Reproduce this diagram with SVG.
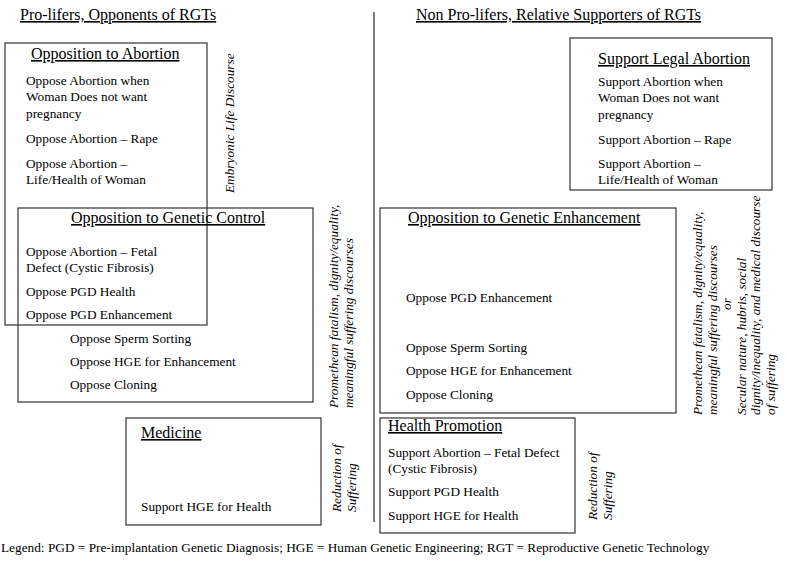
<svg xmlns="http://www.w3.org/2000/svg" width="787" height="573" viewBox="0 0 787 573">
<style>
.box{fill:none;stroke:#333;stroke-width:1.2}
text{font-family:"Liberation Serif","Times New Roman",serif;fill:#000}
.h{font-size:16px;text-decoration:underline}
.t{font-size:16px;text-decoration:underline}
.b{font-size:13.3px}
.r{font-size:13.3px;font-style:italic}
.line{stroke:#222;stroke-width:1.2}
</style>
<rect width="787" height="573" fill="#fff"/>
<g id="connectors">
<line class="line" x1="374" y1="12" x2="374" y2="522"/>
</g>
<g id="heading-left"><text class="h" x="20" y="20">Pro-lifers, Opponents of RGTs</text></g>
<g id="heading-right"><text class="h" x="416" y="20">Non Pro-lifers, Relative Supporters of RGTs</text></g>

<g id="opposition-abortion">
<rect class="box" x="5" y="43" width="202" height="282"/>
<text class="t" x="31" y="59">Opposition to Abortion</text>
<text class="b" x="26" y="85">Oppose Abortion when</text>
<text class="b" x="26" y="101">Woman Does not want</text>
<text class="b" x="26" y="118">pregnancy</text>
<text class="b" x="26" y="143">Oppose Abortion – Rape</text>
<text class="b" x="26" y="168">Oppose Abortion –</text>
<text class="b" x="26" y="184">Life/Health of Woman</text>
</g>
<g id="label-embryonic"><text class="r" transform="translate(234,193) rotate(-90)">Embryonic Life Discourse</text></g>

<g id="opposition-genetic-control">
<rect class="box" x="18" y="208" width="295" height="194"/>
<text class="t" x="71" y="223">Opposition to Genetic Control</text>
<text class="b" x="26" y="256">Oppose Abortion – Fetal</text>
<text class="b" x="26" y="272">Defect (Cystic Fibrosis)</text>
<text class="b" x="26" y="296">Oppose PGD Health</text>
<text class="b" x="26" y="319">Oppose PGD Enhancement</text>
<text class="b" x="70" y="343">Oppose Sperm Sorting</text>
<text class="b" x="70" y="366">Oppose HGE for Enhancement</text>
<text class="b" x="70" y="389">Oppose Cloning</text>
</g>
<g id="label-promethean-left"><text class="r" transform="translate(338,408) rotate(-90)"><tspan x="0" y="0">Promethean fatalism, dignity/equality,</tspan><tspan x="0" y="15">meaningful suffering discourses</tspan></text></g>

<g id="medicine">
<rect class="box" x="126" y="418" width="195" height="107"/>
<text class="t" x="141" y="438">Medicine</text>
<text class="b" x="141" y="511">Support HGE for Health</text>
</g>
<g id="label-reduction-left"><text class="r" transform="translate(341,512) rotate(-90)"><tspan x="0" y="0">Reduction of</tspan><tspan x="0" y="15">Suffering</tspan></text></g>

<g id="support-legal-abortion">
<rect class="box" x="570" y="38" width="202" height="152"/>
<text class="t" x="598" y="64">Support Legal Abortion</text>
<text class="b" x="598" y="86">Support Abortion when</text>
<text class="b" x="598" y="102">Woman Does not want</text>
<text class="b" x="598" y="119">pregnancy</text>
<text class="b" x="598" y="144">Support Abortion – Rape</text>
<text class="b" x="598" y="168">Support Abortion –</text>
<text class="b" x="598" y="184">Life/Health of Woman</text>
</g>

<g id="opposition-genetic-enhancement">
<rect class="box" x="380" y="208" width="296" height="205"/>
<text class="t" x="408" y="223">Opposition to Genetic Enhancement</text>
<text class="b" x="406" y="302">Oppose PGD  Enhancement</text>
<text class="b" x="406" y="352">Oppose Sperm Sorting</text>
<text class="b" x="406" y="375">Oppose HGE for Enhancement</text>
<text class="b" x="406" y="399">Oppose Cloning</text>
</g>
<g id="label-promethean-right"><text class="r" transform="translate(702,415) rotate(-90)"><tspan x="0" y="0">Promethean fatalism, dignity/equality,</tspan><tspan x="0" y="14.5">meaningful suffering discourses</tspan><tspan x="111" y="29" text-anchor="middle">or</tspan><tspan x="0" y="43.5">Secular nature, hubris, social</tspan><tspan x="0" y="58">dignity/inequality, and medical discourse</tspan><tspan x="0" y="72.5">of suffering</tspan></text></g>

<g id="health-promotion">
<rect class="box" x="380" y="418" width="195" height="115"/>
<text class="t" x="388" y="431">Health Promotion</text>
<text class="b" x="388" y="457">Support Abortion – Fetal Defect</text>
<text class="b" x="388" y="473">(Cystic Fibrosis)</text>
<text class="b" x="388" y="496">Support PGD Health</text>
<text class="b" x="388" y="520">Support HGE for Health</text>
</g>
<g id="label-reduction-right"><text class="r" transform="translate(597,520) rotate(-90)"><tspan x="0" y="0">Reduction of</tspan><tspan x="0" y="15">Suffering</tspan></text></g>

<g id="legend"><text class="b" x="1" y="552">Legend:  PGD = Pre-implantation Genetic Diagnosis; HGE = Human Genetic Engineering; RGT = Reproductive Genetic Technology</text></g>
</svg>
